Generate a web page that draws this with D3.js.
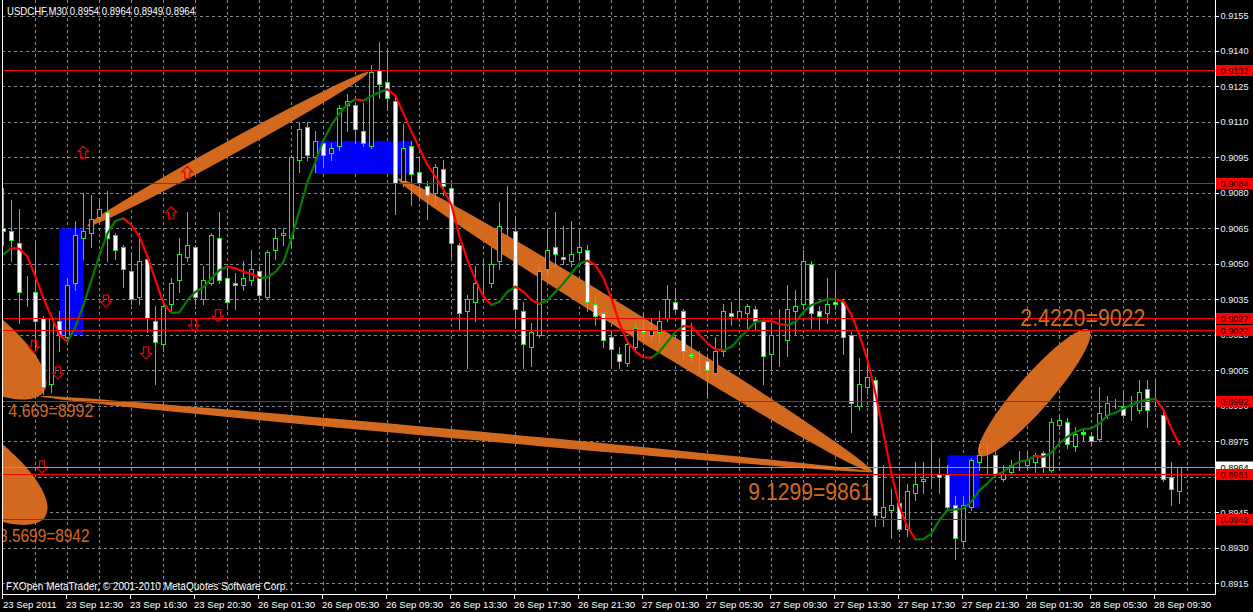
<!DOCTYPE html>
<html><head><meta charset="utf-8">
<script src="https://cdn.jsdelivr.net/npm/d3@7"></script>
<style>body{margin:0;background:#000;overflow:hidden}svg{display:block}</style>
</head><body><svg id="c" width="1253" height="612"></svg>
<script>
// ---------------- DATA ----------------
const symbolTitle = "USDCHF,M30  0.8954 0.8964 0.8949 0.8964";
const copyright = "FXOpen MetaTrader, \u00A9 2001-2010 MetaQuotes Software Corp.";
const openP = [0.9065,0.9064,0.9059,0.9037,0.9038,0.9027,0.8999,0.9026,0.9019,0.9042,0.9061,0.9063,0.9070,0.9072,0.9062,0.9057,0.9047,0.9036,0.9052,0.9026,
0.9016,0.9033,0.9043,0.9053,0.9057,0.9035,0.9042,0.9061,0.9044,0.9042,0.9041,0.9043,0.9047,0.9036,0.9056,0.9062,0.9061,0.9094,0.9108,0.9095,
0.9101,0.9097,0.9100,0.9117,0.9117,0.9106,0.9100,0.9132,0.9127,0.9119,0.9085,0.9100,0.9089,0.9083,0.9080,0.9090,0.9082,0.9058,0.9030,0.9034,
0.9041,0.9042,0.9051,0.9065,0.9064,0.9030,0.9015,0.9020,0.9048,0.9057,0.9053,0.9051,0.9055,0.9056,0.9033,0.9029,0.9019,0.9012,0.9008,0.9015,
0.9022,0.9020,0.9021,0.9027,0.9034,0.9030,0.9012,0.9010,0.9009,0.9004,0.9013,0.9029,0.9027,0.9029,0.9031,0.9026,0.9012,0.9019,0.9018,0.9030,
0.9033,0.9050,0.9030,0.9029,0.9034,0.9034,0.9020,0.8990,0.8998,0.9001,0.8943,0.8946,0.8949,0.8938,0.8953,0.8958,0.8960,0.8961,0.8961,0.8948,
0.8933,0.8947,0.8966,0.8968,0.8969,0.8959,0.8962,0.8966,0.8965,0.8966,0.8970,0.8963,0.8982,0.8983,0.8973,0.8979,0.8977,0.8976,0.8986,0.8991,
0.8990,0.8987,0.8988,0.8997,0.8993,0.8986,0.8960,0.8954];
const highP = [0.9082,0.9077,0.9073,0.9045,0.9059,0.9028,0.9028,0.9030,0.9044,0.9068,0.9080,0.9079,0.9077,0.9081,0.9063,0.9058,0.9054,0.9063,0.9053,0.9032,
0.9033,0.9044,0.9061,0.9072,0.9058,0.9049,0.9063,0.9072,0.9049,0.9046,0.9051,0.9056,0.9049,0.9056,0.9065,0.9065,0.9096,0.9110,0.9110,0.9106,
0.9102,0.9101,0.9117,0.9122,0.9118,0.9118,0.9134,0.9144,0.9140,0.9121,0.9109,0.9102,0.9095,0.9085,0.9092,0.9094,0.9084,0.9059,0.9037,0.9049,
0.9052,0.9057,0.9076,0.9083,0.9070,0.9034,0.9025,0.9049,0.9064,0.9072,0.9066,0.9068,0.9065,0.9058,0.9036,0.9030,0.9021,0.9015,0.9018,0.9025,
0.9029,0.9027,0.9030,0.9041,0.9039,0.9031,0.9025,0.9013,0.9011,0.9019,0.9033,0.9034,0.9039,0.9033,0.9032,0.9027,0.9025,0.9031,0.9041,0.9039,
0.9056,0.9051,0.9032,0.9044,0.9046,0.9035,0.9021,0.9010,0.9013,0.9002,0.8965,0.8955,0.8960,0.8957,0.8966,0.8966,0.8975,0.8968,0.8965,0.8952,
0.8952,0.8968,0.8974,0.8974,0.8970,0.8965,0.8967,0.8971,0.8970,0.8970,0.8971,0.8985,0.8986,0.8985,0.8981,0.8980,0.8978,0.8998,0.8994,0.8993,
0.8996,0.8994,0.9001,0.9001,0.9001,0.8988,0.8966,0.8964];
const lowP = [0.9058,0.9051,0.9025,0.9032,0.9015,0.8995,0.8996,0.9013,0.9018,0.9039,0.9052,0.9057,0.9068,0.9051,0.9052,0.9040,0.9033,0.9033,0.9021,0.8999,
0.9013,0.9030,0.9038,0.9051,0.9033,0.9033,0.9041,0.9042,0.9031,0.9031,0.9039,0.9041,0.9035,0.9035,0.9052,0.9058,0.9058,0.9089,0.9094,0.9089,
0.9091,0.9094,0.9098,0.9106,0.9101,0.9100,0.9099,0.9120,0.9115,0.9071,0.9083,0.9075,0.9078,0.9069,0.9075,0.9079,0.9053,0.9022,0.9006,0.9026,
0.9036,0.9040,0.9048,0.9062,0.9023,0.9006,0.9007,0.9019,0.9045,0.9049,0.9050,0.9049,0.9052,0.9030,0.9024,0.9015,0.9007,0.9006,0.9007,0.9013,
0.9018,0.9018,0.9017,0.9026,0.9030,0.9010,0.9009,0.9004,0.8994,0.9003,0.9011,0.9024,0.9026,0.9022,0.9022,0.8999,0.9005,0.9007,0.9011,0.9020,
0.9031,0.9023,0.9022,0.9025,0.9031,0.9012,0.8979,0.8988,0.8995,0.8939,0.8939,0.8934,0.8937,0.8935,0.8950,0.8953,0.8956,0.8953,0.8946,0.8925,
0.8931,0.8946,0.8963,0.8961,0.8960,0.8958,0.8961,0.8963,0.8964,0.8962,0.8962,0.8962,0.8980,0.8972,0.8971,0.8975,0.8974,0.8975,0.8985,0.8989,
0.8985,0.8984,0.8987,0.8981,0.8990,0.8958,0.8948,0.8949];
const closeP = [0.9064,0.9060,0.9038,0.9037,0.9026,0.8998,0.9027,0.9020,0.9041,0.9062,0.9064,0.9069,0.9073,0.9061,0.9056,0.9048,0.9035,0.9051,0.9027,0.9017,
0.9032,0.9042,0.9054,0.9058,0.9036,0.9043,0.9062,0.9043,0.9034,0.9041,0.9044,0.9048,0.9037,0.9055,0.9061,0.9063,0.9095,0.9107,0.9096,0.9102,
0.9096,0.9099,0.9116,0.9119,0.9107,0.9101,0.9131,0.9126,0.9120,0.9084,0.9099,0.9088,0.9084,0.9079,0.9091,0.9083,0.9059,0.9029,0.9035,0.9042,
0.9041,0.9050,0.9066,0.9065,0.9031,0.9016,0.9021,0.9047,0.9056,0.9054,0.9052,0.9054,0.9057,0.9034,0.9028,0.9018,0.9014,0.9009,0.9016,0.9023,
0.9021,0.9022,0.9026,0.9035,0.9031,0.9013,0.9011,0.9010,0.9005,0.9013,0.9030,0.9028,0.9030,0.9032,0.9026,0.9011,0.9020,0.9019,0.9031,0.9032,
0.9051,0.9029,0.9028,0.9033,0.9033,0.9019,0.8991,0.8999,0.9002,0.8944,0.8947,0.8948,0.8938,0.8954,0.8957,0.8959,0.8960,0.8960,0.8947,0.8934,
0.8948,0.8967,0.8969,0.8968,0.8961,0.8961,0.8965,0.8966,0.8967,0.8969,0.8964,0.8983,0.8984,0.8974,0.8978,0.8978,0.8975,0.8987,0.8991,0.8991,
0.8986,0.8987,0.8996,0.8988,0.8993,0.8959,0.8955,0.8964];
const maLine = [0.90541,0.90566,0.90563,0.90530,0.90445,0.90354,0.90276,0.90199,0.90171,0.90234,0.90326,0.90431,0.90537,0.90629,0.90682,0.90692,0.90664,0.90615,0.90530,0.90431,
0.90333,0.90293,0.90295,0.90347,0.90382,0.90401,0.90439,0.90474,0.90488,0.90481,0.90466,0.90457,0.90441,0.90443,0.90466,0.90509,0.90609,0.90727,0.90847,0.90932,
0.91024,0.91087,0.91136,0.91176,0.91196,0.91190,0.91210,0.91225,0.91238,0.91210,0.91136,0.91059,0.90988,0.90918,0.90868,0.90812,0.90749,0.90615,0.90516,0.90431,
0.90361,0.90326,0.90340,0.90382,0.90403,0.90382,0.90347,0.90330,0.90347,0.90382,0.90418,0.90460,0.90502,0.90513,0.90495,0.90439,0.90354,0.90248,0.90171,0.90128,
0.90105,0.90103,0.90128,0.90171,0.90213,0.90237,0.90234,0.90199,0.90164,0.90138,0.90135,0.90149,0.90185,0.90220,0.90255,0.90259,0.90258,0.90245,0.90241,0.90255,
0.90297,0.90326,0.90340,0.90350,0.90351,0.90342,0.90283,0.90199,0.90093,0.89952,0.89783,0.89614,0.89473,0.89388,0.89335,0.89336,0.89360,0.89417,0.89459,0.89462,
0.89466,0.89494,0.89543,0.89572,0.89607,0.89621,0.89645,0.89663,0.89670,0.89687,0.89684,0.89701,0.89741,0.89769,0.89790,0.89801,0.89804,0.89825,0.89860,0.89870,
0.89889,0.89903,0.89917,0.89927,0.89928,0.89882,0.89804,0.89734];
const timeLabels = ["23 Sep 2011","23 Sep 12:30","23 Sep 16:30","23 Sep 20:30","26 Sep 01:30","26 Sep 05:30","26 Sep 09:30","26 Sep 13:30","26 Sep 17:30","26 Sep 21:30",
"27 Sep 01:30","27 Sep 05:30","27 Sep 09:30","27 Sep 13:30","27 Sep 17:30","27 Sep 21:30","28 Sep 01:30","28 Sep 05:30","28 Sep 09:30"];
const priceTicks = [0.8915,0.8930,0.8945,0.8960,0.8975,0.8990,0.9005,0.9020,0.9035,0.9050,0.9065,0.9080,0.9095,0.9110,0.9125,0.9140,0.9155];
const levelPrices = [0.9132,0.9084,0.9027,0.9022,0.8992,0.8961,0.8942];
const bidPrice = 0.8964;
const arrowBar = [10,23,21,4,7,13,18,24,27,5];
const arrowPrice = [0.90974,0.90889,0.90718,0.90149,0.90037,0.90340,0.90121,0.90241,0.90279,0.89639];
const arrowDir = ["up","up","up","down","down","down","down","down","down","down"];
const rectBarFrom = [7,39,118];
const rectBarTo = [10,51,122];
const rectTop = [0.9065,0.9102,0.8969];
const rectBottom = [0.9020,0.9088,0.8947];
const ellBar1 = [10.5,49.3,4.6,122,-18,-17.9];
const ellPrice1 = [0.9066,0.9086,0.8994,0.8969,0.90480,0.89950];
const ellBar2 = [45.6,108.6,108.6,135.7,5.06,5.19];
const ellPrice2 = [0.9131,0.8962,0.8962,0.9022,0.8996,0.8943];
const fiboText = ["4.669=8992","3.5699=8942","9.1299=9861","2.4220=9022"];
const fiboBar = [0.6,-0.55,93.1,127.1];
const fiboPrice = [0.89852,0.89322,0.89501,0.90235];

// ---------------- STYLE / LAYOUT ----------------
const W = 1253, H = 612;
const PL = 2, PR = 1215, PB = 594;
const ellHalfWidth = [7,11,4.5,17,39,39];
const fiboSize = [17.5,17.5,24,24];
const fiboWidth = [85,90.4,124,125];
const FONT = "'Liberation Sans', Arial, sans-serif";
const GRID = "#7d8b99", ORANGE = "#d2691e", LIME = "#00ff00";

const x = d3.scaleLinear().domain([0,1]).range([3.5,11.5]);
const y = d3.scaleLinear().domain([0.8915,0.9155]).range([583.1,15.5]);
const hy = v => Math.round(y(v)) + 0.5;

const svg = d3.select("#c");
svg.append("rect").attr("width",W).attr("height",H).attr("fill","#000");
svg.append("defs").append("clipPath").attr("id","plot")
  .append("rect").attr("x",PL+1).attr("y",0).attr("width",PR-PL-1).attr("height",PB);
const g = svg.append("g").attr("clip-path","url(#plot)");

// grid
const gridBars = d3.range(4, 149, 4);
g.append("g").selectAll("line").data(gridBars).join("line")
  .attr("x1",d=>x(d)).attr("x2",d=>x(d)).attr("y1",0).attr("y2",PB)
  .attr("stroke",GRID).attr("stroke-dasharray","3,3");
g.append("g").selectAll("line").data(priceTicks).join("line")
  .attr("x1",PL).attr("x2",PR).attr("y1",d=>hy(d)).attr("y2",d=>hy(d))
  .attr("stroke",GRID).attr("stroke-dasharray","3,3");

// blue rectangles
g.append("g").selectAll("rect").data(rectBarFrom).join("rect")
  .attr("x",(d,i)=>x(d)).attr("width",(d,i)=>x(rectBarTo[i])-x(d))
  .attr("y",(d,i)=>y(rectTop[i])).attr("height",(d,i)=>y(rectBottom[i])-y(rectTop[i]))
  .attr("fill","#0000ff");

// orange ellipses
g.append("g").selectAll("ellipse").data(ellBar1).join("ellipse")
  .each(function(d,i){
    const x1=x(d), y1=y(ellPrice1[i]), x2=x(ellBar2[i]), y2=y(ellPrice2[i]);
    const cx=(x1+x2)/2, cy=(y1+y2)/2, a=Math.hypot(x2-x1,y2-y1)/2;
    const ang=Math.atan2(y2-y1,x2-x1)*180/Math.PI;
    d3.select(this).attr("cx",cx).attr("cy",cy).attr("rx",a).attr("ry",ellHalfWidth[i])
      .attr("transform",`rotate(${ang} ${cx} ${cy})`).attr("fill",ORANGE);
  });

// candles
const bars = d3.range(openP.length);
const cg = g.append("g");
cg.selectAll("line.w").data(bars).join("line").attr("class","w")
  .attr("x1",i=>x(i)).attr("x2",i=>x(i)).attr("y1",i=>Math.round(y(highP[i])))
  .attr("y2",i=>Math.round(y(lowP[i]))+1).attr("stroke",LIME);
cg.selectAll("rect").data(bars).join("rect")
  .attr("x",i=>x(i)-2).attr("width",4)
  .attr("y",i=>Math.round(y(Math.max(openP[i],closeP[i])))+0.5)
  .attr("height",i=>Math.max(0,Math.round(y(Math.min(openP[i],closeP[i])))-Math.round(y(Math.max(openP[i],closeP[i])))))
  .attr("fill",i=>closeP[i]>openP[i]?"#000":"#fff").attr("stroke",LIME);

// MA line coloured by slope
const runs=[]; let cur=null;
for(let i=1;i<maLine.length;i++){
  const col = maLine[i]>maLine[i-1] ? "#008000" : "#ff0000";
  if(!cur||cur.col!==col){ cur={col,pts:[i-1]}; runs.push(cur); }
  cur.pts.push(i);
}
const maGen = d3.line().x(i=>x(i)).y(i=>y(maLine[i]));
g.append("g").selectAll("path").data(runs).join("path")
  .attr("d",r=>maGen(r.pts)).attr("fill","none").attr("stroke",r=>r.col)
  .attr("stroke-width",2.2).attr("stroke-linejoin","round").attr("stroke-linecap","round");

// arrows
const downPath="M-2.5,-6.5L2.5,-6.5L2.5,0L5.5,0L0,5.5L-5.5,0L-2.5,0Z";
g.append("g").selectAll("path").data(arrowBar).join("path")
  .attr("d",downPath)
  .attr("transform",(d,i)=>`translate(${x(d)-(arrowDir[i]==="down"?1.5:0.3)},${y(arrowPrice[i])})${arrowDir[i]==="up"?" scale(1,-1)":""}`)
  .attr("fill","none").attr("stroke","#ee0000").attr("stroke-width",1.2);

// level lines and bid line
g.append("g").selectAll("line").data(levelPrices).join("line")
  .attr("x1",PL).attr("x2",PR).attr("y1",d=>hy(d)).attr("y2",d=>hy(d)).attr("stroke","#ff0000");
g.append("line").attr("x1",PL).attr("x2",PR).attr("y1",hy(bidPrice)).attr("y2",hy(bidPrice)).attr("stroke","#9a9a9a");

// orange texts
g.append("g").selectAll("text").data(fiboText).join("text")
  .attr("x",(d,i)=>x(fiboBar[i])).attr("y",(d,i)=>y(fiboPrice[i]))
  .attr("font-family",FONT).attr("font-size",(d,i)=>fiboSize[i])
  .attr("textLength",(d,i)=>fiboWidth[i]).attr("lengthAdjust","spacingAndGlyphs")
  .attr("fill",ORANGE).text(d=>d);

// title and copyright
svg.append("text").attr("x",7).attr("y",15).attr("font-family",FONT).attr("font-size",10.5)
  .attr("textLength",188).attr("lengthAdjust","spacingAndGlyphs").attr("fill","#fff").text(symbolTitle);
svg.append("text").attr("x",6).attr("y",590).attr("font-family",FONT).attr("font-size",10)
  .attr("textLength",282).attr("lengthAdjust","spacingAndGlyphs").attr("fill","#fff").text(copyright);

// frame
svg.append("path").attr("d",`M${PL+0.5},0V${PB+0.5}H${PR+0.5}V0`).attr("fill","none").attr("stroke","#fff");

// right axis
const ra = svg.append("g");
ra.selectAll("line").data(priceTicks).join("line")
  .attr("x1",PR+1).attr("x2",PR+4).attr("y1",d=>hy(d)).attr("y2",d=>hy(d)).attr("stroke","#fff");
ra.selectAll("text").data(priceTicks).join("text")
  .attr("x",1220.5).attr("y",d=>y(d)+3.5).attr("font-family",FONT).attr("font-size",9.8)
  .attr("textLength",28).attr("lengthAdjust","spacingAndGlyphs")
  .attr("fill","#eef4ff").text(d=>d.toFixed(4));
// bid label
svg.append("rect").attr("x",PR+1).attr("y",hy(bidPrice)-6).attr("width",W-PR).attr("height",11).attr("fill","#fff");
svg.append("text").attr("x",1220.5).attr("y",hy(bidPrice)+3.5).attr("font-family",FONT).attr("font-size",9.8)
  .attr("textLength",28).attr("lengthAdjust","spacingAndGlyphs").attr("fill","#000").text(bidPrice.toFixed(4));
// level labels
const lg = svg.append("g");
lg.selectAll("rect").data(levelPrices).join("rect")
  .attr("x",PR+1).attr("y",d=>hy(d)-5.5).attr("width",W-PR).attr("height",11).attr("fill","#ff0000");
lg.selectAll("text").data(levelPrices).join("text")
  .attr("x",1220.5).attr("y",d=>hy(d)+3.5).attr("font-family",FONT).attr("font-size",9.8)
  .attr("textLength",28).attr("lengthAdjust","spacingAndGlyphs")
  .attr("fill","#200000").text(d=>d.toFixed(4));

// bottom axis
const tb = svg.append("g");
tb.selectAll("line").data(timeLabels).join("line")
  .attr("x1",(d,i)=>Math.round(x(i*8))-1.5).attr("x2",(d,i)=>Math.round(x(i*8))-1.5)
  .attr("y1",PB).attr("y2",PB+5).attr("stroke","#fff");
tb.selectAll("text").data(timeLabels).join("text")
  .attr("x",(d,i)=>Math.max(3,x(i*8)-1.5)).attr("y",607.5).attr("font-family",FONT).attr("font-size",9.6)
  .attr("fill","#fff").text(d=>d);
</script></body></html>
